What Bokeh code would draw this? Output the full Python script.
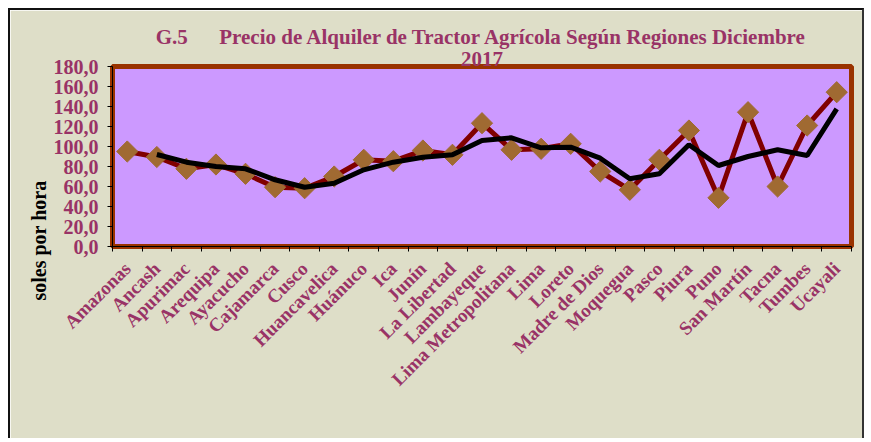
from math import pi
from bokeh.plotting import figure
from bokeh.models import FixedTicker, Range1d, Title
from bokeh.embed import file_html
from bokeh.resources import INLINE

regions = ["Amazonas", "Ancash", "Apurimac", "Arequipa", "Ayacucho", "Cajamarca", "Cusco",
           "Huancavelica", "Huánuco", "Ica", "Junín", "La Libertad", "Lambayeque",
           "Lima Metropolitana", "Lima", "Loreto", "Madre de Dios", "Moquegua", "Pasco",
           "Piura", "Puno", "San Martín", "Tacna", "Tumbes", "Ucayali"]
precio = [95.0, 89.5, 77.7, 82.0, 72.7, 59.3, 58.3, 70.0, 86.7, 85.3, 96.0, 91.7, 123.3,
          96.7, 97.7, 102.7, 75.0, 56.7, 86.7, 116.0, 48.7, 134.3, 60.0, 121.0, 154.3]
# trend line (starts at Ancash)
tendencia = [None, 92.0, 84.3, 80.0, 77.7, 66.7, 59.3, 63.3, 76.7, 84.3, 89.3, 91.7, 106.0,
             108.7, 98.7, 99.3, 88.3, 67.7, 72.7, 101.7, 81.0, 90.0, 96.7, 91.0, 137.7]
y_ticks = [0, 20, 40, 60, 80, 100, 120, 140, 160, 180]
y_tick_labels = ["0,0", "20,0", "40,0", "60,0", "80,0", "100,0", "120,0", "140,0", "160,0", "180,0"]
title_line1 = "G.5\u00a0\u00a0\u00a0\u00a0\u00a0\u00a0Precio de Alquiler de Tractor Agrícola Según Regiones Diciembre"
title_line2 = "2017"
y_title = "soles por hora"

FONT = "Liberation Serif"
LBL = "#993366"
W, H = 856, 430

n = len(regions)
xs = [i + 0.5 for i in range(n)]
tx = [x for x, t in zip(xs, tendencia) if t is not None]
ty = [t for t in tendencia if t is not None]

p = figure(width=W, height=H, x_range=Range1d(0, n), y_range=Range1d(0, 180),
           output_backend="svg", toolbar_location=None,
           min_border_left=102, min_border_right=15, min_border_top=56, min_border_bottom=194)
p.styles = {"margin-left": "8px", "margin-top": "8px",
            "border-left": "2px solid #111111", "border-top": "2px solid #111111",
            "border-right": "2px solid #333333"}
p.background_fill_color = "#CC99FF"
p.border_fill_color = "#DEDEC8"
p.outline_line_color = "#993300"
p.outline_line_width = 5
p.grid.visible = False

p.line(xs, precio, line_color="#800000", line_width=5)
p.scatter(xs, precio, marker="square", angle=pi / 4, size=15,
          fill_color="#A06A32", line_color="#A06A32")
p.line(tx, ty, line_color="black", line_width=5)

# y axis
ya = p.yaxis[0]
ya.ticker = FixedTicker(ticks=y_ticks)
ya.major_label_overrides = {t: l for t, l in zip(y_ticks, y_tick_labels)}
ya.major_label_text_font = FONT
ya.major_label_text_font_style = "bold"
ya.major_label_text_font_size = "20px"
ya.major_label_text_color = LBL
ya.major_tick_in = 0
ya.major_tick_out = 5
ya.minor_tick_line_color = None
ya.axis_line_color = "black"
ya.major_label_standoff = 9

# x axis
xa = p.xaxis[0]
xa.ticker = FixedTicker(ticks=xs, minor_ticks=list(range(n + 1)))
xa.major_label_overrides = {x: r for x, r in zip(xs, regions)}
xa.major_label_orientation = pi / 4
xa.major_label_text_font = FONT
xa.major_label_text_font_style = "bold"
xa.major_label_text_font_size = "19px"
xa.major_label_text_color = LBL
xa.major_tick_line_color = None
xa.major_tick_in = 0
xa.major_tick_out = 0
xa.minor_tick_in = 0
xa.minor_tick_out = 5
xa.minor_tick_line_color = "black"
xa.axis_line_color = "black"
xa.major_label_standoff = 14

# titles (subtitle first so it sits nearer the frame)
p.add_layout(Title(text=title_line2, align="center", text_font=FONT, text_font_style="bold",
                   text_font_size="21px", text_color=LBL, standoff=2), "above")
p.add_layout(Title(text=title_line1, align="center", text_font=FONT, text_font_style="bold",
                   text_font_size="21px", text_color=LBL, standoff=0), "above")
p.add_layout(Title(text=y_title, align="left", offset=-54, text_font=FONT, text_font_style="bold",
                   text_font_size="20px", text_color="black", standoff=1), "left")

open("out.html", "w").write(file_html(p, INLINE))
